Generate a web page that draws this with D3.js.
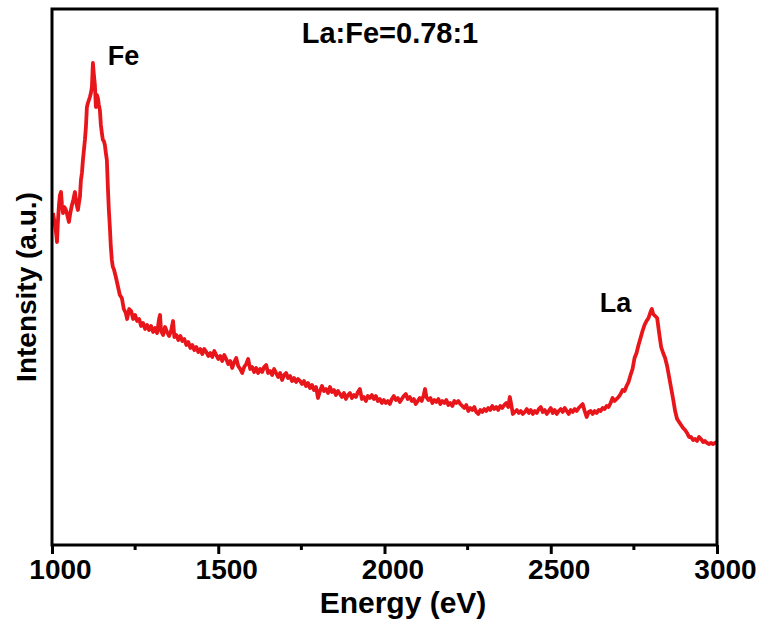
<!DOCTYPE html>
<html>
<head>
<meta charset="utf-8">
<script src="https://cdn.jsdelivr.net/npm/d3@7"></script>
<style>
  body { margin: 0; background: #fff; }
  text { font-family: "Liberation Sans", Arial, sans-serif; font-weight: bold; fill: #000; }
</style>
</head>
<body>
<div id="chart"></div>
<script>
// EDS spectrum (energy in eV, intensity in a.u.)
const energy = [
  1003, 1009, 1013, 1015, 1018, 1021, 1024, 1027, 1030, 1033, 1037, 1042, 1046, 1051, 1055,
  1060, 1064, 1069, 1073, 1078, 1081, 1084, 1087, 1090, 1093, 1096, 1099, 1102, 1105, 1108,
  1111, 1114, 1117, 1120, 1123, 1126, 1129, 1132, 1135, 1138, 1141, 1144, 1147, 1150, 1153,
  1156, 1159, 1162, 1165, 1168, 1171, 1174, 1177, 1180, 1183, 1186, 1189, 1192,
  1196, 1204, 1210, 1216, 1222, 1226, 1232, 1238, 1244, 1250, 1256, 1262, 1268, 1274, 1280,
  1286, 1292, 1298, 1304, 1310, 1316, 1322, 1325, 1328, 1334, 1340, 1346, 1352, 1358, 1364,
  1368, 1374, 1380, 1386, 1392, 1398, 1404, 1410, 1416, 1422, 1428, 1434, 1440, 1446, 1452,
  1458, 1464, 1470, 1476, 1482, 1488, 1494, 1500, 1506, 1512, 1518, 1524, 1530, 1536, 1542,
  1548, 1554, 1560, 1566, 1572, 1578, 1584, 1590, 1596, 1602, 1608, 1614, 1620, 1626, 1632,
  1638, 1644, 1650, 1656, 1662, 1668, 1674, 1680, 1686, 1692, 1698, 1704, 1710, 1716, 1722,
  1728, 1734, 1740, 1746, 1752, 1758, 1764, 1770, 1776, 1782, 1788, 1794, 1800, 1806, 1812,
  1818, 1824, 1830, 1836, 1842, 1848, 1854, 1860, 1866, 1872, 1878, 1884, 1890, 1896, 1902,
  1908, 1914, 1920, 1926, 1932, 1938, 1944, 1950, 1956, 1962, 1968, 1974, 1980, 1986, 1992,
  1998, 2004, 2010, 2016, 2022, 2028, 2034, 2040, 2046, 2052, 2058, 2064, 2070, 2076, 2082,
  2088, 2094, 2100, 2106, 2112, 2118, 2122, 2126, 2132, 2138, 2144, 2150, 2156, 2162, 2168,
  2174, 2180, 2186, 2192, 2198, 2204, 2210, 2216, 2222, 2228, 2234, 2240, 2246, 2252, 2258,
  2264, 2270, 2276, 2282, 2288, 2294, 2300, 2306, 2312, 2318, 2324, 2330, 2336, 2342, 2348,
  2354, 2360, 2366, 2372, 2377, 2382, 2386, 2392, 2398, 2404, 2410, 2416, 2422, 2428, 2434,
  2440, 2446, 2452, 2458, 2464, 2470, 2476, 2482, 2488, 2494, 2500, 2506, 2512, 2518, 2524,
  2530, 2536, 2542, 2548, 2554, 2560, 2566, 2572, 2578, 2584, 2590, 2596, 2602, 2608, 2614,
  2620, 2626, 2632, 2638, 2644, 2650, 2656, 2662, 2668, 2674, 2680, 2686, 2692, 2698, 2704,
  2710, 2716, 2722, 2728, 2734, 2740, 2746, 2752, 2758, 2764, 2770, 2776, 2782, 2788, 2794,
  2800, 2804, 2808, 2814, 2820, 2826, 2832, 2838, 2844, 2850, 2856, 2862, 2868, 2874, 2880,
  2886, 2892, 2898, 2904, 2910, 2916, 2922, 2928, 2934, 2940, 2946, 2952, 2958, 2964, 2970,
  2976, 2982, 2988, 2994, 3000
];
const intensity = [
  332, 320, 310, 303, 325, 340, 350, 353, 340, 332, 338, 335, 330, 323, 332,
  340, 345, 353, 342, 335, 342, 348, 365, 372, 385, 395, 405, 418, 438, 442,
  445, 448, 452, 458, 482, 470, 460, 438, 450, 447, 440, 435, 420, 412, 405,
  404, 400, 392, 385, 358, 335, 318, 298, 285, 278, 276, 272, 268,
  262, 250, 247, 236, 232, 226, 236, 234, 226, 230, 224, 226, 219, 222, 216,
  220, 215, 219, 213, 217, 212, 226, 230, 214, 210, 218, 213, 209, 214, 224,
  208, 210, 205, 209, 204, 206, 200, 203, 197, 200, 195, 198, 193, 196, 191,
  196, 193, 189, 192, 188, 194, 190, 186, 189, 184, 190, 186, 181, 184, 177,
  183, 187, 179, 176, 172, 178, 181, 186, 176, 178, 173, 177, 172, 176, 173,
  178, 180, 172, 174, 170, 176, 172, 168, 172, 165, 170, 172, 167, 169, 164,
  167, 163, 166, 164, 161, 164, 159, 162, 157, 160, 155, 158, 147, 154, 159,
  154, 156, 152, 158, 153, 155, 150, 154, 151, 148, 152, 146, 150, 152, 147,
  150, 148, 153, 156, 146, 148, 144, 149, 147, 150, 146, 149, 144, 146, 142,
  145, 142, 144, 141, 146, 149, 145, 147, 143, 146, 149, 151, 146, 148, 144,
  146, 141, 144, 147, 144, 150, 156, 148, 145, 147, 142, 145, 143, 146, 141,
  144, 142, 145, 140, 142, 139, 144, 142, 144, 141, 139, 137, 140, 134, 137,
  135, 138, 133, 131, 135, 133, 136, 134, 137, 135, 139, 136, 138, 135, 139,
  137, 140, 142, 138, 148, 139, 131, 133, 135, 132, 134, 131, 133, 136, 132,
  135, 131, 134, 132, 136, 138, 133, 135, 131, 134, 137, 132, 135, 131, 134,
  136, 133, 137, 134, 131, 135, 133, 136, 134, 137, 139, 141, 134, 128, 133,
  134, 131, 134, 132, 135, 134, 137, 136, 139, 138, 142, 147, 144, 146, 148,
  151, 155, 154, 159, 163, 170, 176, 187, 192, 200, 207, 214, 220, 224, 227,
  233, 236, 231, 229, 227, 212, 198, 192, 187, 179, 168, 157, 146, 134, 126,
  123, 120, 117, 115, 112, 108, 108, 105, 106, 104, 108, 106, 103, 104, 102,
  101, 102, 101, 102, 103
];
const xTicks = [1000, 1500, 2000, 2500, 3000];
const xMinorTicks = [1250, 1750, 2250, 2750];
const peakLabels = [
  { name: "Fe", energy: 1215, intensity: 480 },
  { name: "La", energy: 2695, intensity: 233 }
];
const ratioText = "La:Fe=0.78:1";

const width = 764;
const height = 626;
const margin = { top: 9, right: 47, bottom: 81, left: 52 };

const svg = d3.select("#chart")
  .append("svg")
  .attr("width", width)
  .attr("height", height);

const x = d3.scaleLinear()
  .domain([1000, 3000])
  .range([margin.left, width - margin.right]);

const y = d3.scaleLinear()
  .domain([0, 536])
  .range([height - margin.bottom, margin.top]);

const points = energy.map((e, i) => ({ e: e, v: intensity[i] }));

const line = d3.line()
  .x(d => x(d.e))
  .y(d => y(d.v));

svg.append("path")
  .datum(points)
  .attr("fill", "none")
  .attr("stroke", "#e8161b")
  .attr("stroke-width", 3.8)
  .attr("stroke-linejoin", "round")
  .attr("d", line);

// frame
svg.append("rect")
  .attr("x", margin.left)
  .attr("y", margin.top)
  .attr("width", width - margin.left - margin.right)
  .attr("height", height - margin.top - margin.bottom)
  .attr("fill", "none")
  .attr("stroke", "#000")
  .attr("stroke-width", 3);

const xAxis = svg.append("g")
  .attr("transform", `translate(0,${height - margin.bottom})`)
  .call(d3.axisBottom(x).tickValues(xTicks).tickSize(9).tickPadding(5).tickFormat(d3.format("d")));

xAxis.select(".domain").remove();
xAxis.selectAll(".tick line").attr("stroke-width", 3);
xAxis.selectAll(".tick text")
  .attr("font-size", 28)
  .attr("dx", 8)
  .attr("font-family", "Liberation Sans, Arial, sans-serif")
  .attr("font-weight", "bold");

svg.append("g")
  .attr("transform", `translate(0,${height - margin.bottom})`)
  .selectAll("line")
  .data(xMinorTicks)
  .join("line")
  .attr("x1", d => x(d))
  .attr("x2", d => x(d))
  .attr("y1", 0)
  .attr("y2", 5)
  .attr("stroke", "#000")
  .attr("stroke-width", 3);

svg.append("text")
  .attr("x", 403)
  .attr("y", 613)
  .attr("text-anchor", "middle")
  .attr("font-size", 30)
  .text("Energy (eV)");

svg.append("text")
  .attr("transform", "translate(36,287) rotate(-90)")
  .attr("text-anchor", "middle")
  .attr("font-size", 28)
  .text("Intensity (a.u.)");

svg.selectAll(".peak")
  .data(peakLabels)
  .join("text")
  .attr("class", "peak")
  .attr("x", d => x(d.energy))
  .attr("y", d => y(d.intensity))
  .attr("text-anchor", "middle")
  .attr("font-size", 27)
  .text(d => d.name);

svg.append("text")
  .attr("x", 390)
  .attr("y", 43)
  .attr("text-anchor", "middle")
  .attr("font-size", 29)
  .text(ratioText);
</script>
</body>
</html>
